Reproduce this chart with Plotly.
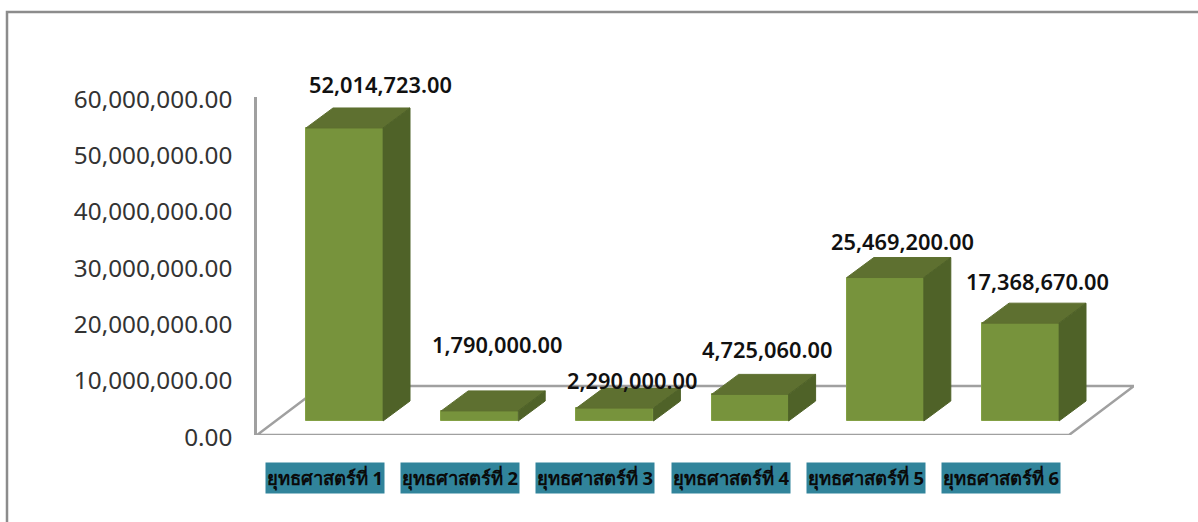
import plotly.graph_objects as go

# chart values
categories = ["ยุทธศาสตร์ที่ 1", "ยุทธศาสตร์ที่ 2", "ยุทธศาสตร์ที่ 3",
              "ยุทธศาสตร์ที่ 4", "ยุทธศาสตร์ที่ 5", "ยุทธศาสตร์ที่ 6"]
values = [52014723, 1790000, 2290000, 4725060, 25469200, 17368670]
tick_vals = [0, 10000000, 20000000, 30000000, 40000000, 50000000, 60000000]

# label nudges in pixels, the original labels were moved by hand
label_dx = [36, 17, 17, 17, 17, 17]
label_dy = [43, 66, 28, 45, 36, 42]

W, H = 1198, 522
L, R, T, B = 257, 64, 97, 87
x_per_px = 1 / 135.2
y_per_px = 60000000 / (H - T - B)
x_min = 1 - 87.5 * x_per_px
x_max = x_min + (W - L - R) * x_per_px

# the fake 3d: depth of a bar and lift of the bars off the axis base
dx = 27 * x_per_px
dy = 20 * y_per_px
base = 14 * y_per_px
half = 38.5 * x_per_px
floor_dx = 65 * x_per_px
floor_dy = 49 * y_per_px
floor_right = x_max - floor_dx

FRONT, TOP, SIDE = "#77933c", "#5e7030", "#4f6228"
LINE = "#a0a0a0"

xs = list(range(1, len(values) + 1))
tops = [v + base for v in values]

fig = go.Figure()
fig.add_trace(go.Bar(x=xs, y=values, base=base, width=2 * half,
                     marker=dict(color=FRONT, line=dict(color="#83a044", width=1)),
                     hoverinfo="skip"))

# top and side faces of each bar
for x, t in zip(xs, tops):
    fig.add_trace(go.Scatter(
        x=[x - half, x + half, x + half + dx, x - half + dx, x - half],
        y=[t, t, t + dy, t + dy, t],
        mode="lines", fill="toself", fillcolor=TOP, line=dict(color=TOP, width=1),
        hoverinfo="skip"))
    fig.add_trace(go.Scatter(
        x=[x + half, x + half + dx, x + half + dx, x + half, x + half],
        y=[base, base + dy, t + dy, t, base],
        mode="lines", fill="toself", fillcolor=SIDE, line=dict(color=SIDE, width=1),
        hoverinfo="skip"))

# floor outline sits behind the bars
floor = (f"M {x_min} 0 L {floor_right} 0 L {x_max} {floor_dy} "
         f"L {x_min + floor_dx} {floor_dy} Z")
fig.add_shape(type="path", path=floor, xref="x", yref="y", layer="below",
              line=dict(color=LINE, width=2.5))

# frame of the picture, open at the bottom
def px(v):
    return (v - L) / (W - L - R)

def py(v):
    return (H - B - v) / (H - T - B)

frame = f"M {px(7)} {py(524)} L {px(7)} {py(12)} L {px(1200)} {py(12)}"
fig.add_shape(type="path", path=frame, xref="paper", yref="paper",
              line=dict(color="#8c8c8c", width=2.5))

for x, t, name, v, ldx, ldy in zip(xs, tops, categories, values, label_dx, label_dy):
    fig.add_annotation(x=x, y=t, text=f"{v:,.2f}", showarrow=False,
                       xshift=ldx, yshift=ldy,
                       font=dict(family="Noto Sans", size=21.8, color="#111111", weight=600))
    fig.add_annotation(x=x, y=py(478), yref="paper", yanchor="middle", text=f"<b>{name}</b>",
                       showarrow=False, xshift=-19.5, width=116, height=28, bgcolor="#31849b",
                       font=dict(family="Noto Sans, DejaVu Sans", size=18.5, color="#0a0a0a"))

fig.update_layout(
    width=W, height=H, margin=dict(l=L, r=R, t=T, b=B, autoexpand=False),
    paper_bgcolor="white", plot_bgcolor="rgba(0,0,0,0)", showlegend=False,
    bargap=0,
    xaxis=dict(range=[x_min, x_max], showgrid=False, zeroline=False,
               showticklabels=False, ticks=""),
    yaxis=dict(range=[0, 60000000], tickvals=tick_vals, tickformat=",.2f",
               showgrid=False, zeroline=False, showline=True, linecolor=LINE, linewidth=2.5,
               ticks="", ticklabelstandoff=17, ticklabelshift=2,
               tickfont=dict(family="Noto Sans", size=24.3, color="#333333")),
)

# page margin would push the chart 8px off
fig.write_html("out.html", config=dict(displayModeBar=False),
               post_script="document.body.style.margin = '0';")
